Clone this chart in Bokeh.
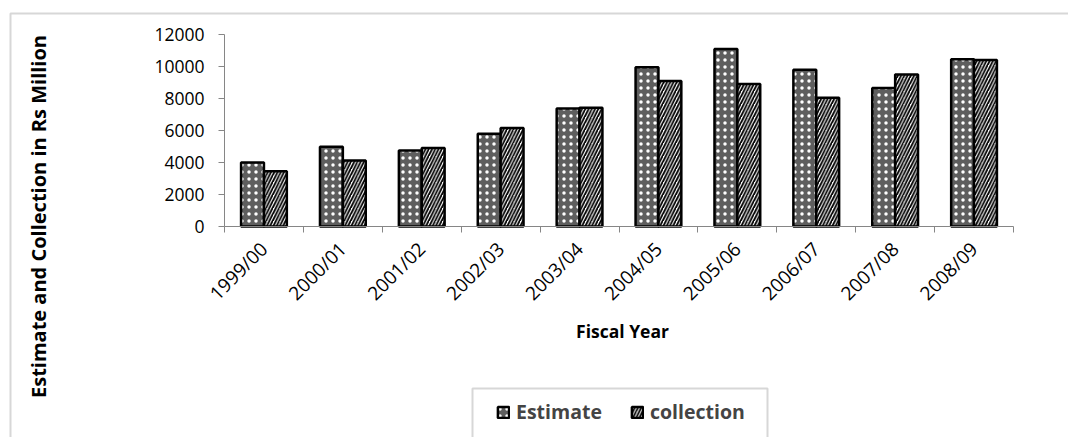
from math import pi

from bokeh.embed import file_html
from bokeh.models import (BoxAnnotation, ColumnDataSource, FixedTicker, Label,
                          Legend, LegendItem, Range1d)
from bokeh.plotting import figure
from bokeh.resources import INLINE
from bokeh.transform import dodge

# Fiscal years and amounts (Rs Million)
years = ["1999/00", "2000/01", "2001/02", "2002/03", "2003/04",
         "2004/05", "2005/06", "2006/07", "2007/08", "2008/09"]
estimate = [4000, 4980, 4750, 5800, 7380, 9950, 11100, 9800, 8650, 10450]
collection = [3450, 4120, 4900, 6150, 7420, 9100, 8900, 8050, 9500, 10400]
y_ticks = [0, 2000, 4000, 6000, 8000, 10000, 12000]

FONT = "Open Sans"
AXIS_GREY = "#868686"
BORDER_GREY = "#7a7a7a"
W, H = 1068, 437

# The frame fills the whole canvas; the plot area (x 0..10, y 0..12000)
# sits at pixels 224..1013 horizontally and 226..34 vertically.
PX_PER_CAT = (1013 - 224) / len(years)
UNITS_PER_PX = 12000 / (226 - 34)
x_range = Range1d(-224 / PX_PER_CAT, (W - 224) / PX_PER_CAT)
y_range = Range1d(-(H - 226) * UNITS_PER_PX, 226 * UNITS_PER_PX)

src = ColumnDataSource(dict(
    pos=[i + 0.5 for i in range(len(years))],
    estimate=estimate,
    collection=collection,
))

p = figure(width=W, height=H, output_backend="svg", toolbar_location=None,
           x_range=x_range, y_range=y_range, min_border=0)
p.outline_line_color = None
p.grid.visible = False
p.background_fill_color = "white"
p.border_fill_color = "white"

bar_w = 0.29
est_r = p.vbar(x=dodge("pos", -bar_w / 2), top="estimate", width=bar_w, source=src,
               fill_color="#5e5e5e", line_color="black", line_width=2.5,
               hatch_pattern="dot", hatch_color="white", hatch_scale=7,
               hatch_weight=2)
col_r = p.vbar(x=dodge("pos", bar_w / 2), top="collection", width=bar_w, source=src,
               fill_color="white", line_color="black", line_width=2.5,
               hatch_pattern="right_diagonal_line", hatch_color="black",
               hatch_scale=6.5, hatch_weight=1.8)

# x axis: labels at category centres, tick marks at category boundaries
p.xaxis.fixed_location = 0
p.xaxis.bounds = (0, len(years))
p.xaxis.ticker = FixedTicker(ticks=[i + 0.5 for i in range(len(years))],
                             minor_ticks=list(range(len(years) + 1)))
p.xaxis.major_label_overrides = {i + 0.5: y for i, y in enumerate(years)}
p.xaxis.major_tick_out = 0
p.xaxis.major_tick_in = 0
p.xaxis.minor_tick_out = 6
p.xaxis.minor_tick_in = 0
p.xaxis.minor_tick_line_color = AXIS_GREY
p.xaxis.axis_line_color = AXIS_GREY
p.xaxis.major_label_orientation = pi / 4
p.xaxis.major_label_text_font = FONT
p.xaxis.major_label_text_font_size = "19px"
p.xaxis.major_label_text_color = "black"
p.xaxis.major_label_standoff = 13

p.yaxis.fixed_location = 0
p.yaxis.bounds = (0, 12000)
p.yaxis.ticker = FixedTicker(ticks=y_ticks, minor_ticks=[])
p.yaxis.major_tick_out = 6
p.yaxis.major_tick_in = 0
p.yaxis.major_tick_line_color = AXIS_GREY
p.yaxis.axis_line_color = AXIS_GREY
p.yaxis.major_label_text_font = FONT
p.yaxis.major_label_text_font_size = "17.5px"
p.yaxis.major_label_text_color = "black"
p.yaxis.major_label_standoff = 14

# chart border (only its left and top edges fall inside the canvas)
p.add_layout(BoxAnnotation(left=10, right=W + 50, top=13, bottom=H + 50,
                           left_units="canvas", right_units="canvas",
                           top_units="canvas", bottom_units="canvas",
                           fill_alpha=0, line_color=BORDER_GREY, line_width=2))

# legend box, running off the bottom edge
p.add_layout(BoxAnnotation(left=472, right=767, top=388, bottom=H + 50,
                           left_units="canvas", right_units="canvas",
                           top_units="canvas", bottom_units="canvas",
                           fill_color="white", fill_alpha=1,
                           line_color=BORDER_GREY, line_width=2))

p.add_layout(Label(x=38, y=216, x_units="canvas", y_units="canvas",
                   text="Estimate and Collection in Rs Million", angle=pi / 2,
                   text_align="center", text_baseline="middle",
                   text_font=FONT, text_font_style="bold",
                   text_font_size="20px", text_color="black"))
p.add_layout(Label(x=622, y=330, x_units="canvas", y_units="canvas",
                   text="Fiscal Year", text_align="center", text_baseline="middle",
                   text_font=FONT, text_font_style="bold",
                   text_font_size="17.5px", text_color="black"))

legend = Legend(items=[LegendItem(label="Estimate", renderers=[est_r]),
                       LegendItem(label="collection", renderers=[col_r])],
                orientation="horizontal", location=(496, 12),
                border_line_alpha=0, background_fill_alpha=0,
                label_text_font=FONT, label_text_font_style="bold",
                label_text_font_size="19.5px", glyph_width=14, glyph_height=14,
                label_height=22, spacing=28, padding=0, margin=0,
                label_standoff=6)
p.add_layout(legend, "center")

open("out.html", "w").write(file_html(p, INLINE))
